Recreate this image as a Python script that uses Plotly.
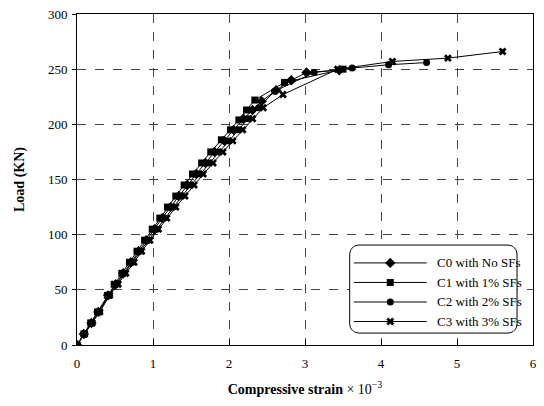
import math
import plotly.graph_objects as go

# ---- data ----
c0_load = [0, 10, 20, 30, 45, 55, 65, 75, 85, 95, 105, 115, 125, 135, 145, 155, 165, 175, 185, 195, 205, 213, 221, 231, 240, 247, 249]
c0_strain = [0, 0.09, 0.19, 0.28, 0.41, 0.51, 0.61, 0.71, 0.81, 0.91, 1.02, 1.12, 1.23, 1.34, 1.45, 1.57, 1.69, 1.81, 1.94, 2.06, 2.19, 2.31, 2.43, 2.62, 2.82, 3.02, 3.45]

c1_load = [0, 10, 20, 30, 45, 55, 65, 75, 85, 95, 105, 115, 125, 135, 145, 155, 165, 175, 186, 195, 204, 213, 222, 238, 250]
c1_strain = [0, 0.09, 0.18, 0.27, 0.40, 0.49, 0.59, 0.69, 0.79, 0.89, 0.99, 1.09, 1.19, 1.30, 1.41, 1.52, 1.64, 1.76, 1.90, 2.02, 2.13, 2.23, 2.34, 2.73, 3.50]

c2_load = [0, 10, 20, 30, 45, 55, 65, 75, 85, 95, 105, 115, 125, 135, 145, 155, 165, 175, 185, 195, 205, 215, 230, 247, 251, 254, 256]
c2_strain = [0, 0.10, 0.19, 0.29, 0.42, 0.52, 0.62, 0.73, 0.83, 0.94, 1.05, 1.15, 1.27, 1.38, 1.50, 1.62, 1.74, 1.87, 2.00, 2.12, 2.25, 2.39, 2.60, 3.12, 3.62, 4.10, 4.60]

c3_load = [0, 10, 20, 30, 45, 55, 65, 75, 85, 95, 105, 115, 125, 135, 145, 155, 165, 175, 185, 195, 205, 215, 227, 250, 257, 260, 266]
c3_strain = [0, 0.10, 0.20, 0.30, 0.43, 0.54, 0.64, 0.75, 0.85, 0.96, 1.07, 1.18, 1.30, 1.42, 1.54, 1.66, 1.79, 1.92, 2.05, 2.18, 2.31, 2.45, 2.71, 3.43, 4.15, 4.88, 5.60]

series_names = ["C0 with No SFs", "C1 with 1% SFs", "C2 with 2% SFs", "C3 with 3% SFs"]
x_ticks = [0, 1, 2, 3, 4, 5, 6]
y_ticks = [0, 50, 100, 150, 200, 250, 300]

FONT = "Liberation Serif, Times New Roman, serif"

fig = go.Figure()
specs = [
    (c0_strain, c0_load, "diamond", 8),
    (c1_strain, c1_load, "square", 7),
    (c2_strain, c2_load, "circle", 7),
    (c3_strain, c3_load, "x", 7),
]
for name, (xs, ys, sym, sz) in zip(series_names, specs):
    fig.add_trace(go.Scatter(
        x=xs, y=ys, mode="lines+markers", name=name, showlegend=False,
        line=dict(color="black", width=1),
        marker=dict(symbol=sym, size=sz, color="black"),
    ))

# ---- manual legend box with rounded corners (hidden overlay axes = plot-area fractions) ----
leg_x0, leg_x1, leg_y0, leg_y1 = 0.598, 0.965, 0.036, 0.302
rx = 0.02
ry = rx * 460 / 331
bx, by = [], []
corners = [(leg_x1 - rx, leg_y1 - ry, 90, 0), (leg_x1 - rx, leg_y0 + ry, 0, -90),
           (leg_x0 + rx, leg_y0 + ry, -90, -180), (leg_x0 + rx, leg_y1 - ry, 180, 90)]
for cx, cy, a0, a1 in corners:
    for k in range(9):
        a = math.radians(a0 + (a1 - a0) * k / 8)
        bx.append(cx + rx * math.cos(a))
        by.append(cy + ry * math.sin(a))
bx.append(bx[0]); by.append(by[0])
fig.add_trace(go.Scatter(
    x=bx, y=by, xaxis="x2", yaxis="y2", mode="lines", fill="toself",
    fillcolor="white", line=dict(color="black", width=1),
    showlegend=False, hoverinfo="skip",
))

entry_y = [0.248, 0.189, 0.130, 0.071]
for name, (xs, ys, sym, sz), ey in zip(series_names, specs, entry_y):
    fig.add_trace(go.Scatter(
        x=[0.607, 0.687, 0.767], y=[ey, ey, ey], xaxis="x2", yaxis="y2",
        mode="lines", showlegend=False, hoverinfo="skip",
        line=dict(color="black", width=1),
    ))
    fig.add_trace(go.Scatter(
        x=[0.687], y=[ey], xaxis="x2", yaxis="y2",
        mode="markers", showlegend=False, hoverinfo="skip", cliponaxis=False,
        marker=dict(symbol=sym, size=sz, color="black"),
    ))
    fig.add_annotation(x=0.785, y=ey, xref="paper", yref="paper", text=name,
                       showarrow=False, xanchor="left", yanchor="middle",
                       font=dict(family=FONT, size=13, color="black"))

grid = dict(showgrid=True, gridcolor="#444444", griddash="dash", gridwidth=1,
            showline=True, linecolor="black", linewidth=1, mirror=True,
            zeroline=False, tickfont=dict(family=FONT, size=13, color="black"))

fig.update_xaxes(range=[0, 6], tickvals=x_ticks, ticks="inside", ticklen=5, tickcolor="black",
                 ticklabelstandoff=6,
                 title=dict(text="<b>Compressive strain</b> × 10<sup>−3</sup>",
                            font=dict(family=FONT, size=14, color="black"), standoff=14),
                 **grid)
fig.update_yaxes(range=[0, 300], tickvals=y_ticks, ticks="outside", ticklen=4, tickcolor="black",
                 ticklabelstandoff=2,
                 title=dict(text="<b>Load (KN)</b>", font=dict(family=FONT, size=14, color="black"), standoff=20),
                 **grid)

fig.update_layout(
    width=544, height=406,
    margin=dict(l=77, r=7, t=14, b=61),
    plot_bgcolor="white", paper_bgcolor="white",
    font=dict(family=FONT, color="black"),
    showlegend=False,
    xaxis2=dict(range=[0, 1], overlaying="x", visible=False, showgrid=False),
    yaxis2=dict(range=[0, 1], overlaying="y", visible=False, showgrid=False),
)

fig.write_html("out.html")
